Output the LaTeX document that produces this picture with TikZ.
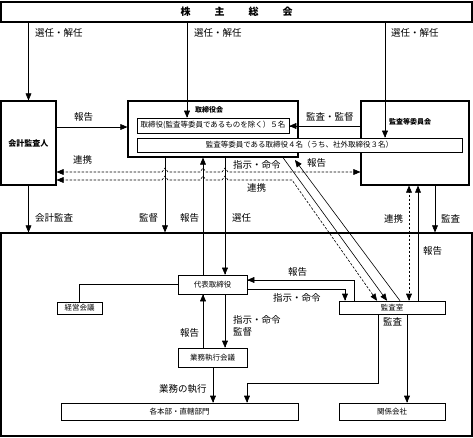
\documentclass[tikz,border=0pt]{standalone}
\usepackage{fontspec}
\setmainfont{Noto Sans CJK JP}
\usetikzlibrary{arrows}

\tikzset{
  mainbox/.style={draw, line width=1.2pt, fill=white, inner sep=0pt},
  subbox/.style={draw, line width=0.5pt, fill=white, inner sep=0pt, font=\fontsize{7.5}{9}\selectfont},
  lbl/.style={anchor=west, inner sep=0pt, font=\fontsize{9.5}{12}\selectfont},
  ttl/.style={inner sep=0pt, font=\bfseries\fontsize{7}{8}\selectfont},
  conn/.style={line width=0.6pt},
  arr/.style={->, >=triangle 45, line width=0.6pt},
  darr/.style={<->, >=triangle 45, line width=0.6pt, dash pattern=on 2.5pt off 1.5pt}
}

\begin{document}
\begin{tikzpicture}[x=1pt, y=-1pt]
	\useasboundingbox (0,0) rectangle (473,438);

	% boxes
	\node[mainbox, minimum width=471pt, minimum height=20pt] (soukai) at (236.5,12) {\bfseries\fontsize{10}{12}\selectfont 株\hspace{24pt}主\hspace{24pt}総\hspace{24pt}会};
	\node[mainbox, minimum width=471pt, minimum height=203pt] (group) at (236.5,334.5) {};
	\node[mainbox, minimum width=55pt, minimum height=84pt] (kansanin) at (28.5,143) {};
	\node[ttl, font=\bfseries\fontsize{8}{9}\selectfont] (kansanin-t) at (28.5,143) {会計監査人};
	\node[mainbox, minimum width=170pt, minimum height=56pt] (torikai) at (213,129) {};
	\node[ttl] (torikai-t) at (209,110) {取締役会};
	\node[mainbox, minimum width=108pt, minimum height=84pt] (iinkai) at (415,143) {};
	\node[ttl] (iinkai-t) at (410,122) {監査等委員会};
	\node[subbox, minimum width=152pt, minimum height=15pt] (inner1) at (213,125.5) {取締役(監査等委員であるものを除く）５名};
	\node[subbox, minimum width=325pt, minimum height=14pt] (inner2) at (299.5,145) {監査等委員である取締役４名（うち、社外取締役３名）};

	\node[subbox, minimum width=69pt, minimum height=19pt] (daihyo) at (212.5,284.5) {代表取締役};
	\node[subbox, minimum width=45pt, minimum height=12pt] (keiei) at (79.5,308) {経営会議};
	\node[subbox, minimum width=69pt, minimum height=19pt] (gyomu) at (212.5,357.5) {業務執行会議};
	\node[subbox, minimum width=106pt, minimum height=13pt] (shitsu) at (392,307.5) {監査室};
	\node[subbox, minimum width=237pt, minimum height=17pt] (honbu) at (179.5,411.5) {各本部・直轄部門};
	\node[subbox, minimum width=106pt, minimum height=17pt] (kankei) at (392,411.5) {関係会社};

	% shareholders meeting
	\draw[arr] (soukai.south -| kansanin) -- (kansanin.north);
	\draw[arr] (soukai.south -| 187,0) -- (inner1.north -| 187,0);
	\draw[arr] (soukai.south -| 385,0) -- (inner2.north -| 385,0);
	\node[lbl] (l-sennin1) at (35,33) {選任・解任};
	\node[lbl] (l-sennin2) at (194,33) {選任・解任};
	\node[lbl] (l-sennin3) at (391,33) {選任・解任};

	% upper row
	\draw[arr] (kansanin.east |- 0,127) -- (torikai.west |- 0,127);
	\node[lbl] (l-hokoku1) at (74,117) {報告};
	\draw[arr] (iinkai.west |- 0,126) -- (inner1.east |- 0,126);
	\node[lbl] (l-kansa1) at (306,117) {監査・監督};

	\draw[darr] (kansanin.east |- 0,172) -- (162,172) -- (165,168) -- (168,172) -- (200,172) -- (203,168) -- (206,172) -- (222,172) -- (225,168) -- (228,172) -- (iinkai.west |- 0,172);
	\node[lbl] (l-renkei1) at (73,160) {連携};
	\draw[darr] (kansanin.east |- 0,180) -- (162,180) -- (165,176) -- (168,180) -- (200,180) -- (203,176) -- (206,180) -- (222,180) -- (225,176) -- (228,180) -- (292,180) -- (shitsu.north -| 377,0);
	\node[lbl] (l-renkei2) at (247,188) {連携};

	\draw[arr] (torikai.south -| 283,0) -- (shitsu.north -| 387,0);
	\node[lbl] (l-shiji1) at (233,165) {指示・命令};
	\draw[arr] (shitsu.north -| 400,0) -- (295,160);
	\node[lbl] (l-hokoku2) at (307,163) {報告};

	% middle row
	\draw[arr] (kansanin.south) -- (group.north -| kansanin);
	\node[lbl] (l-kaikei) at (35,218) {会計監査};
	\draw[arr] (torikai.south -| 165,0) -- (group.north -| 165,0);
	\node[lbl] (l-kantoku1) at (139,218) {監督};
	\draw[arr] (daihyo.north -| 203,0) -- (torikai.south -| 203,0);
	\node[lbl] (l-hokoku3) at (180,218) {報告};
	\draw[arr] (torikai.south -| 225,0) -- (daihyo.north -| 225,0);
	\node[lbl] (l-sennin4) at (232,218) {選任};

	\draw[darr] (iinkai.south -| 409,0) -- (shitsu.north -| 409,0);
	\node[lbl] (l-renkei3) at (384,219) {連携};
	\draw[arr] (shitsu.north -| 418,0) -- (iinkai.south -| 418,0);
	\node[lbl] (l-hokoku4) at (423,251) {報告};
	\draw[arr] (iinkai.south -| 435,0) -- (group.north -| 435,0);
	\node[lbl] (l-kansa2) at (441,219) {監査};

	% inside the company
	\draw[conn] (daihyo.west) -| (keiei.north);
	\draw[arr] (shitsu.north -| 354,0) |- (daihyo.east |- 0,280);
	\node[lbl] (l-hokoku5) at (288,272) {報告};
	\draw[arr] (daihyo.east |- 0,289) -| (shitsu.north -| 345,0);
	\node[lbl] (l-shiji2) at (273,298) {指示・命令};

	\draw[arr] (gyomu.north -| 203,0) -- (daihyo.south -| 203,0);
	\node[lbl] (l-hokoku6) at (180,333) {報告};
	\draw[arr] (daihyo.south -| 225,0) -- (gyomu.north -| 225,0);
	\node[lbl, align=left] (l-shiji3) at (233,326) {指示・命令\\監督};

	\draw[arr] (gyomu.south -| 213,0) -- (honbu.north -| 213,0);
	\node[lbl] (l-shikko) at (159,389) {業務の執行};
	\draw[arr] (shitsu.south -| 378,0) -- (378,383) -| (honbu.north -| 247,0);
	\node[lbl] (l-kansa3) at (383,322) {監査};
	\draw[arr] (shitsu.south -| 407,0) -- (kankei.north -| 407,0);
\end{tikzpicture}
\end{document}
